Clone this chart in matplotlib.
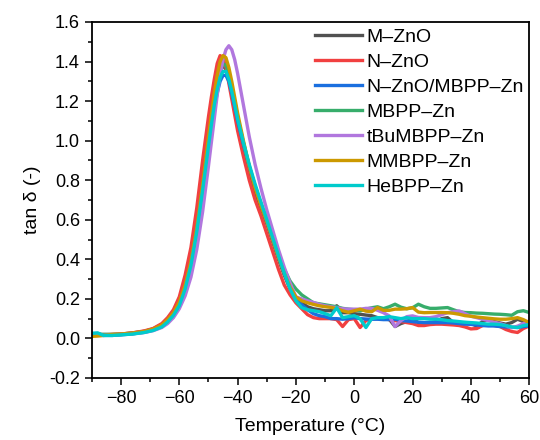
import matplotlib
matplotlib.use("Agg")
import matplotlib.pyplot as plt
from matplotlib.ticker import MultipleLocator, FormatStrFormatter

plt.rcParams['font.family'] = ['Liberation Sans', 'DejaVu Sans']

# temperature grid (°C): dense around the peak, 2 °C steps in the tail
temperature = [-90, -88, -86, -83, -80, -76, -72, -69, -66, -64, -62, -60, -58, -56, -54,
               -52, -50, -49, -48, -47, -46, -45, -44, -43, -42, -41, -40, -38, -36, -34,
               -32, -30, -28, -26, -24, -22, -20,
               -18, -16, -14, -12, -10, -8, -6, -4, -2, 0, 2, 4, 6, 8, 10, 12, 14, 16, 18,
               20, 22, 24, 26, 28, 30, 32, 34, 36, 38, 40, 42, 44, 46, 48, 50, 52, 54, 56,
               58, 60]

m_zno = [0.02, 0.02, 0.02, 0.02, 0.022, 0.028, 0.036, 0.048, 0.07, 0.098, 0.135, 0.19, 0.28, 0.41, 0.59,
         0.8, 1.03, 1.13, 1.23, 1.31, 1.36, 1.38, 1.36, 1.31, 1.24, 1.17, 1.09, 0.96, 0.84, 0.74,
         0.66, 0.58, 0.49, 0.4, 0.32, 0.25, 0.2,
         0.18, 0.16, 0.15, 0.145, 0.14, 0.14, 0.165, 0.13, 0.13, 0.125, 0.122, 0.118, 0.115, 0.105, 0.1,
         0.097, 0.06, 0.075, 0.085, 0.097, 0.08, 0.072, 0.078, 0.085, 0.1, 0.105, 0.08, 0.072, 0.08,
         0.075, 0.063, 0.085, 0.097, 0.085, 0.078, 0.072, 0.08, 0.097, 0.085, 0.072]

n_zno = [0.02, 0.02, 0.018, 0.02, 0.022, 0.028, 0.038, 0.05, 0.075, 0.105, 0.145, 0.21, 0.32, 0.46, 0.66,
         0.9, 1.12, 1.22, 1.31, 1.39, 1.43, 1.42, 1.37, 1.29, 1.21, 1.13, 1.05, 0.92, 0.8, 0.7,
         0.62, 0.53, 0.44, 0.35, 0.27, 0.22, 0.18,
         0.15, 0.12, 0.105, 0.1, 0.1, 0.1, 0.095, 0.06, 0.095, 0.1, 0.055, 0.09, 0.1, 0.1, 0.1,
         0.095, 0.09, 0.085, 0.08, 0.075, 0.065, 0.065, 0.07, 0.072, 0.072, 0.07, 0.068, 0.065, 0.058,
         0.048, 0.05, 0.065, 0.07, 0.065, 0.06, 0.045, 0.035, 0.03, 0.05, 0.063]

n_zno_mbpp = [0.025, 0.025, 0.015, 0.015, 0.018, 0.023, 0.031, 0.042, 0.06, 0.086, 0.12, 0.17, 0.255, 0.375, 0.545,
              0.75, 0.96, 1.07, 1.16, 1.24, 1.3, 1.33, 1.33, 1.3, 1.24, 1.17, 1.1, 0.98, 0.87, 0.77,
              0.68, 0.59, 0.5, 0.41, 0.33, 0.26, 0.2,
              0.17, 0.145, 0.125, 0.115, 0.11, 0.1, 0.1, 0.097, 0.1, 0.105, 0.1, 0.098, 0.097, 0.097, 0.095,
              0.095, 0.097, 0.09, 0.088, 0.085, 0.082, 0.08, 0.08, 0.08, 0.08, 0.08, 0.078, 0.075, 0.072,
              0.071, 0.068, 0.065, 0.063, 0.063, 0.06, 0.058, 0.056, 0.055, 0.06, 0.063]

mbpp_zn = [0.02, 0.02, 0.02, 0.02, 0.02, 0.025, 0.033, 0.044, 0.064, 0.09, 0.125, 0.175, 0.26, 0.38, 0.55,
           0.76, 0.99, 1.1, 1.2, 1.29, 1.35, 1.39, 1.38, 1.34, 1.27, 1.2, 1.12, 0.99, 0.87, 0.77,
           0.68, 0.6, 0.51, 0.42, 0.35, 0.29, 0.25,
           0.22, 0.2, 0.18, 0.175, 0.17, 0.165, 0.16, 0.152, 0.148, 0.145, 0.139, 0.148, 0.155, 0.16, 0.15,
           0.16, 0.173, 0.158, 0.15, 0.155, 0.173, 0.16, 0.152, 0.152, 0.154, 0.156, 0.145, 0.135, 0.131,
           0.13, 0.128, 0.127, 0.125, 0.123, 0.122, 0.12, 0.117, 0.135, 0.14, 0.131]

tbumbpp_zn = [0.015, 0.015, 0.015, 0.018, 0.02, 0.024, 0.03, 0.039, 0.055, 0.075, 0.105, 0.15, 0.215, 0.31, 0.45,
              0.64, 0.87, 0.99, 1.11, 1.23, 1.33, 1.41, 1.46, 1.48, 1.46, 1.41, 1.34, 1.18, 1.02, 0.88,
              0.76, 0.65, 0.55, 0.45, 0.36, 0.28, 0.21,
              0.2, 0.19, 0.182, 0.172, 0.165, 0.16, 0.155, 0.15, 0.148, 0.148, 0.148, 0.152, 0.152, 0.142, 0.13,
              0.114, 0.06, 0.09, 0.11, 0.114, 0.106, 0.105, 0.105, 0.11, 0.12, 0.13, 0.135, 0.139, 0.125,
              0.112, 0.105, 0.097, 0.09, 0.082, 0.075, 0.065, 0.054, 0.062, 0.075, 0.088]

mmbpp_zn = [0.01, 0.012, 0.015, 0.02, 0.022, 0.027, 0.035, 0.047, 0.068, 0.095, 0.13, 0.185, 0.27, 0.39, 0.56,
            0.78, 1.02, 1.13, 1.24, 1.33, 1.4, 1.43, 1.42, 1.37, 1.3, 1.22, 1.14, 1.0, 0.87, 0.76,
            0.67, 0.59, 0.5, 0.41, 0.33, 0.26, 0.21,
            0.19, 0.18, 0.172, 0.165, 0.16, 0.157, 0.15, 0.14, 0.132, 0.14, 0.148, 0.138, 0.135, 0.156, 0.142,
            0.142, 0.148, 0.148, 0.15, 0.156, 0.133, 0.13, 0.131, 0.131, 0.131, 0.13, 0.127, 0.122, 0.115,
            0.112, 0.108, 0.105, 0.102, 0.099, 0.097, 0.097, 0.1, 0.105, 0.095, 0.08]

hebpp_zn = [0.025, 0.028, 0.015, 0.015, 0.018, 0.022, 0.03, 0.04, 0.058, 0.083, 0.117, 0.165, 0.25, 0.37, 0.54,
            0.75, 0.97, 1.08, 1.18, 1.26, 1.32, 1.35, 1.35, 1.31, 1.25, 1.18, 1.11, 0.99, 0.88, 0.78,
            0.69, 0.6, 0.51, 0.42, 0.33, 0.25, 0.19,
            0.155, 0.145, 0.14, 0.135, 0.125, 0.115, 0.155, 0.105, 0.11, 0.115, 0.1, 0.055, 0.1, 0.105, 0.105,
            0.11, 0.105, 0.1, 0.105, 0.1, 0.1, 0.1, 0.097, 0.097, 0.095, 0.09, 0.088, 0.085, 0.082,
            0.08, 0.078, 0.075, 0.072, 0.072, 0.07, 0.065, 0.058, 0.055, 0.065, 0.07]

labels = ['M–ZnO', 'N–ZnO', 'N–ZnO/MBPP–Zn', 'MBPP–Zn', 'tBuMBPP–Zn', 'MMBPP–Zn', 'HeBPP–Zn']
series = [m_zno, n_zno, n_zno_mbpp, mbpp_zn, tbumbpp_zn, mmbpp_zn, hebpp_zn]
colors = ['#515151', '#F14040', '#1A6FDF', '#37AD6B', '#B177DE', '#CC9900', '#00CBCC']

fig = plt.figure(figsize=(5.4, 4.4), dpi=100)
ax = fig.add_axes([0.170, 0.141, 0.810, 0.809])

for vals, lab, col in zip(series, labels, colors):
    ax.plot(temperature, vals, color=col, lw=2.4, label=lab)

ax.set_xlim(-90, 60)
ax.set_ylim(-0.2, 1.6)
ax.xaxis.set_major_locator(MultipleLocator(20))
ax.xaxis.set_minor_locator(MultipleLocator(10))
ax.yaxis.set_major_locator(MultipleLocator(0.2))
ax.yaxis.set_minor_locator(MultipleLocator(0.1))
ax.yaxis.set_major_formatter(FormatStrFormatter('%.1f'))
ax.tick_params(which='both', direction='out', top=False, right=False, labelsize=13)
ax.tick_params(which='major', length=5, width=1.1)
ax.tick_params(which='minor', length=3, width=1.1)
for sp in ax.spines.values():
    sp.set_linewidth(1.3)

ax.set_xlabel('Temperature (°C)', fontsize=14, labelpad=8)
ax.set_ylabel('tan δ (-)', fontsize=14, labelpad=6)

ax.legend(loc='upper left', bbox_to_anchor=(315 / 540, 1 - 28 / 440), bbox_transform=fig.transFigure,
          frameon=False, fontsize=14, handlelength=2.4, handletextpad=0.26,
          labelspacing=0.38, borderpad=0, borderaxespad=0)

fig.savefig('out.png', dpi=100)
